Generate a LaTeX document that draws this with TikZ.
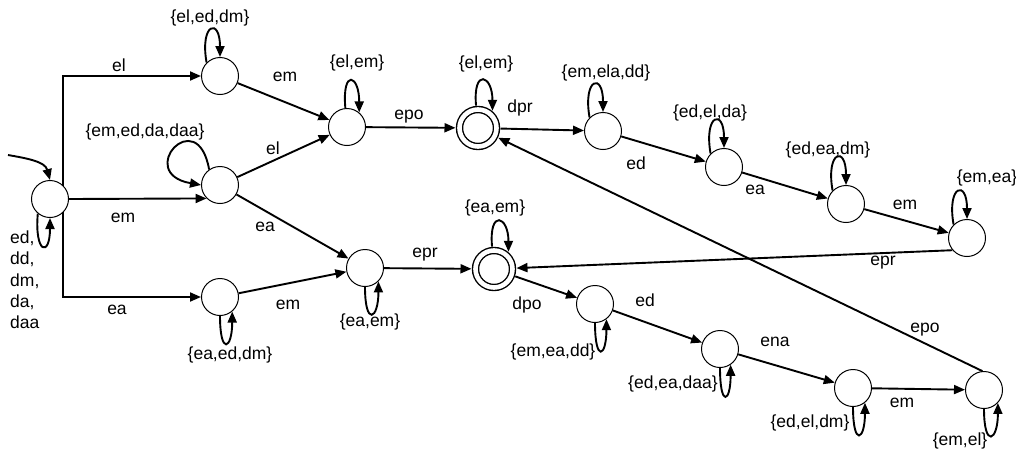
\documentclass[tikz,border=0pt]{standalone}
\usepackage{fontspec}
\setmainfont{Liberation Sans}
\usetikzlibrary{arrows.meta}
\begin{document}
\begin{tikzpicture}[x=1pt,y=1pt,
  state/.style={circle,draw,line width=1pt,minimum size=37pt,inner sep=0pt},
  final/.style={circle,draw,line width=1.4pt,minimum size=37pt,inner sep=0pt,double,double distance=4.6pt,outer sep=4pt},
  edge/.style={line width=1.9pt,-{Triangle[length=11pt,width=9pt]}},
  lbl/.style={font=\fontsize{17.5}{21.3}\selectfont,inner sep=0pt}]
\useasboundingbox (0,0) rectangle (1016,-448);
% states
\node[state] (s0) at (50,-199) {};
\node[state] (A) at (220,-76) {};
\node[state] (B) at (220,-185) {};
\node[state] (C) at (220,-297) {};
\node[state] (D) at (347,-127) {};
\node[final] (F1) at (478,-128) {};
\node[state] (G) at (603,-131) {};
\node[state] (H) at (724,-167) {};
\node[state] (I) at (846,-204) {};
\node[state] (J) at (967,-238) {};
\node[state] (E) at (365,-268) {};
\node[final] (F2) at (494,-269) {};
\node[state] (K) at (595,-304) {};
\node[state] (L) at (720,-349) {};
\node[state] (M) at (853,-388) {};
\node[state] (N) at (984,-390) {};
\coordinate (init) at (8,-155);
% transitions
\draw[edge] (init) to[out=-10,in=105] (s0.90);
\draw[edge] (s0.45) |- (A);
\draw[edge] (s0.east) -- (B.225);
\draw[edge] (s0.-45) |- (C);
\draw[edge] (A) -- (D);
\draw[edge] (B) -- (D);
\draw[edge] (B) -- (E);
\draw[edge] (C) -- (E);
\draw[edge] (D) -- (F1);
\draw[edge] (F1) -- (G);
\draw[edge] (G) -- (H);
\draw[edge] (H) -- (I);
\draw[edge] (I) -- (J);
\draw[edge] (J.220) -- (F2);
\draw[edge] (E) -- (F2);
\draw[edge] (F2) -- (K);
\draw[edge] (K) -- (L);
\draw[edge] (L) -- (M);
\draw[edge] (M) -- (N);
\draw[edge] (N.95) -- (F1);
% self loops
\draw[edge] (s0.230) .. controls +(265:40) and +(270:40) .. (s0.270);
\draw[edge] (A.135) .. controls +(100:40) and +(90:40) .. (A.90);
\draw[edge] (B.125) .. controls +(100:68) and +(170:68) .. (B.180);
\draw[edge] (C.270) .. controls +(270:40) and +(270:38) .. (C.310);
\draw[edge] (D.95) .. controls +(95:40) and +(90:38) .. (D.50);
\draw[edge] (F1.95) .. controls +(95:38) and +(90:36) .. (F1.50);
\draw[edge] (G.135) .. controls +(100:40) and +(90:40) .. (G.90);
\draw[edge] (H.135) .. controls +(100:40) and +(90:40) .. (H.90);
\draw[edge] (I.135) .. controls +(100:40) and +(90:40) .. (I.90);
\draw[edge] (J.135) .. controls +(100:40) and +(90:40) .. (J.90);
\draw[edge] (E.270) .. controls +(270:40) and +(270:38) .. (E.315);
\draw[edge] (F2.95) .. controls +(95:38) and +(90:36) .. (F2.50);
\draw[edge] (K.270) .. controls +(270:40) and +(270:38) .. (K.307);
\draw[edge] (L.270) .. controls +(270:40) and +(270:38) .. (L.304);
\draw[edge] (M.270) .. controls +(270:40) and +(270:38) .. (M.309);
\draw[edge] (N.270) .. controls +(270:40) and +(270:38) .. (N.317);
% labels
\node[lbl] (t1) at (119,-65) {el};
\node[lbl] (t2) at (285,-77) {em};
\node[lbl] (t3) at (210,-18) {\{el,ed,dm\}};
\node[lbl] (t4) at (145,-132) {\{em,ed,da,daa\}};
\node[lbl] (t5) at (273,-148) {el};
\node[lbl] (t6) at (123,-218) {em};
\node[lbl] (t7) at (265,-227) {ea};
\node[lbl] (t8) at (117,-310) {ea};
\node[lbl] (t9) at (288,-305) {em};
\node[lbl] (t10) at (230,-355) {\{ea,ed,dm\}};
\node[lbl] (t11) at (357,-63) {\{el,em\}};
\node[lbl] (t12) at (409,-117) {epo};
\node[lbl] (t13) at (486,-64) {\{el,em\}};
\node[lbl] (t14) at (520,-108) {dpr};
\node[lbl] (t15) at (606,-73) {\{em,ela,dd\}};
\node[lbl] (t16) at (636,-163) {ed};
\node[lbl] (t17) at (710,-113) {\{ed,el,da\}};
\node[lbl] (t18) at (755,-190) {ea};
\node[lbl] (t19) at (828,-150) {\{ed,ea,dm\}};
\node[lbl] (t20) at (905,-205) {em};
\node[lbl] (t21) at (987,-178) {\{em,ea\}};
\node[lbl] (t22) at (883,-263) {epr};
\node[lbl] (t23) at (925,-330) {epo};
\node[lbl] (t24) at (370,-322) {\{ea,em\}};
\node[lbl] (t25) at (425,-255) {epr};
\node[lbl] (t26) at (495,-208) {\{ea,em\}};
\node[lbl] (t27) at (527,-305) {dpo};
\node[lbl] (t28) at (553,-352) {\{em,ea,dd\}};
\node[lbl] (t29) at (645,-300) {ed};
\node[lbl] (t30) at (673,-384) {\{ed,ea,daa\}};
\node[lbl] (t31) at (775,-342) {ena};
\node[lbl] (t32) at (810,-423) {\{ed,el,dm\}};
\node[lbl] (t33) at (902,-403) {em};
\node[lbl] (t34) at (960,-441) {\{em,el\}};
\node[lbl,align=left,anchor=west] (t35) at (10,-280) {ed,\\dd,\\dm,\\da,\\daa};
\end{tikzpicture}
\end{document}
